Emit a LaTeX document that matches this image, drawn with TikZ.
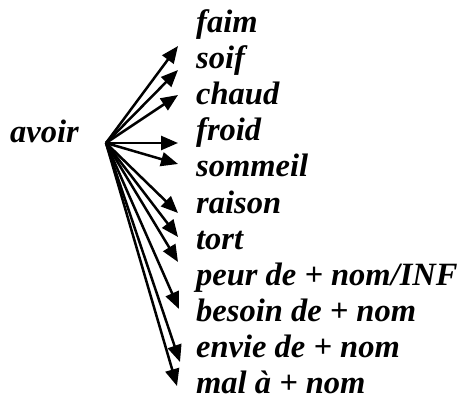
\documentclass[tikz,border=0pt]{standalone}
\usepackage{fontspec}
\setmainfont{Liberation Serif}
\usetikzlibrary{arrows.meta}
\begin{document}
\begin{tikzpicture}[x=1pt,y=-1pt,
  word/.style={anchor=base west, inner sep=0pt, font=\fontsize{32.5}{36}\selectfont\bfseries\itshape},
  arr/.style={line width=2.5pt, -{Triangle[length=17pt,width=14pt]}}]
\useasboundingbox (0,0) rectangle (462,403);
\node[word] (avoir) at (10,143) {avoir};
\coordinate (o) at (106,143);
\node[word] (w1) at (196,33) {faim};
\node[word] (w2) at (196,69) {soif};
\node[word] (w3) at (196,105) {chaud};
\node[word] (w4) at (196,141) {froid};
\node[word] (w5) at (196,177) {sommeil};
\node[word] (w6) at (196,213) {raison};
\node[word] (w7) at (196,249) {tort};
\node[word] (w8) at (196,285) {peur de + nom/INF};
\node[word] (w9) at (196,321) {besoin de + nom};
\node[word] (w10) at (196,357) {envie de + nom};
\node[word] (w11) at (196,393) {mal à + nom};
\coordinate (t1) at (178,46);
\coordinate (t2) at (178,70);
\coordinate (t3) at (178,95);
\coordinate (t4) at (178,143);
\coordinate (t5) at (178,164);
\coordinate (t6) at (178,213);
\coordinate (t7) at (178,237);
\coordinate (t8) at (178,262);
\coordinate (t9) at (179,309);
\coordinate (t10) at (180,362);
\coordinate (t11) at (177,386);
\foreach \i in {1,...,11} \draw[arr] (o) -- (t\i);
\end{tikzpicture}
\end{document}
